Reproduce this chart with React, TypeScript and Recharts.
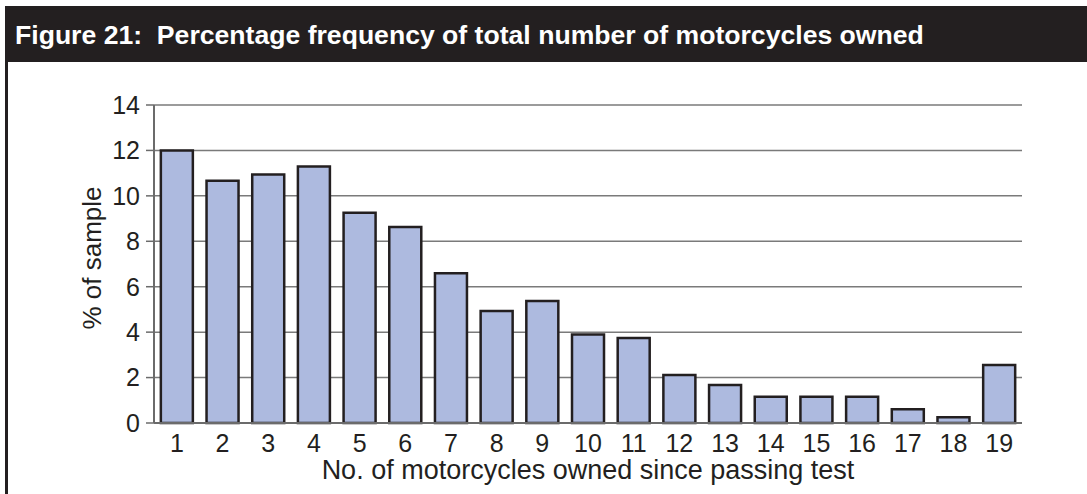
import React from "react";
import {
  BarChart,
  Bar,
  XAxis,
  YAxis,
  CartesianGrid,
} from "recharts";

const categories: string[] = [
  "1", "2", "3", "4", "5", "6", "7", "8", "9", "10",
  "11", "12", "13", "14", "15", "16", "17", "18", "19",
];
const percentSample: number[] = [
  12.0, 10.66, 10.94, 11.29, 9.26, 8.63, 6.59, 4.93, 5.37, 3.9,
  3.74, 2.11, 1.67, 1.16, 1.16, 1.16, 0.6, 0.25, 2.55,
];
const yTicks: number[] = [0, 2, 4, 6, 8, 10, 12, 14];

const titleText = "Figure 21:  Percentage frequency of total number of motorcycles owned";
const xTitle = "No. of motorcycles owned since passing test";
const yTitle = "% of sample";

const data = categories.map((c, i) => ({ cat: c, value: percentSample[i] }));

const FONT = "'Liberation Sans', Arial, Helvetica, sans-serif";

const YLabel = (props: any) => {
  const vb = props.viewBox || {};
  const cx = 101;
  const cy = vb.y + vb.height / 2 - 6;
  return (
    <text
      x={cx}
      y={cy}
      transform={`rotate(-90, ${cx}, ${cy})`}
      textAnchor="middle"
      fill="#231f20"
      fontSize={26}
      fontFamily={FONT}
    >
      {yTitle}
    </text>
  );
};

export default function App() {
  return (
    <div
      style={{
        position: "absolute",
        left: 0,
        top: 0,
        width: 1087,
        height: 494,
        background: "#ffffff",
        fontFamily: FONT,
        overflow: "hidden",
      }}
    >
      <div
        style={{
          position: "absolute",
          left: 5,
          top: 6,
          width: 1082,
          height: 56,
          background: "#231f20",
        }}
      />
      <div
        style={{
          position: "absolute",
          left: 15,
          top: 7,
          height: 56,
          lineHeight: "56px",
          color: "#ffffff",
          fontWeight: "bold",
          fontSize: 26.6,
          whiteSpace: "pre",
          fontFamily: FONT,
        }}
      >
        {titleText}
      </div>
      <div
        style={{
          position: "absolute",
          left: 5,
          top: 6,
          width: 2.5,
          height: 488,
          background: "#231f20",
        }}
      />
      <div style={{ position: "absolute", left: 0, top: 0 }}>
        <BarChart
          width={1087}
          height={494}
          data={data}
          margin={{ top: 105, right: 65, bottom: 11, left: 94 }}
          barCategoryGap="15%"
        >
          <CartesianGrid
            horizontal={true}
            vertical={false}
            stroke="#7a7a7a"
            strokeWidth={1.5}
          />
          <XAxis
            dataKey="cat"
            height={60}
            tickLine={false}
            tickSize={0}
            tickMargin={11}
            axisLine={{ stroke: "#6b6b6b", strokeWidth: 2 }}
            tick={{ fill: "#231f20", fontSize: 25, fontFamily: FONT }}
            interval={0}
            label={{
              value: xTitle,
              position: "insideBottom",
              offset: 4,
              fill: "#231f20",
              fontSize: 27,
              fontFamily: FONT,
            }}
          />
          <YAxis
            width={60}
            domain={[0, 14]}
            ticks={yTicks}
            interval={0}
            tickSize={8}
            tickMargin={6}
            tickLine={{ stroke: "#6b6b6b", strokeWidth: 1.5 }}
            axisLine={{ stroke: "#6b6b6b", strokeWidth: 2 }}
            tick={{ fill: "#231f20", fontSize: 25, fontFamily: FONT }}
            label={<YLabel />}
          />
          <YAxis
            yAxisId="right"
            orientation="right"
            width={0}
            domain={[0, 14]}
            tick={false}
            tickLine={false}
            axisLine={{ stroke: "#b0b0b0", strokeWidth: 2 }}
          />
          <Bar
            dataKey="value"
            fill="#adbadf"
            stroke="#231f20"
            strokeWidth={2.5}
            isAnimationActive={false}
          />
        </BarChart>
      </div>
    </div>
  );
}
